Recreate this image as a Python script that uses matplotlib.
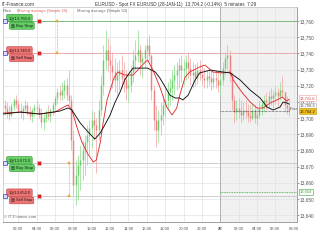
import matplotlib
matplotlib.use("Agg")
import matplotlib.pyplot as plt
import matplotlib.transforms as mtransforms
import pandas as pd
import numpy as np

plt.rcParams['font.family'] = ['Liberation Sans', 'DejaVu Sans']

# ---------------- data ----------------
bar_start = "2011-01-27 00:30"
bar_freq = "15min"
first_open = 13708.0
bar_high = [13711.2, 13709.9, 13708.1, 13709.3, 13712.4, 13714.2, 13711.2, 13709.3, 13708.1, 13711.2,
            13709.9, 13707.4, 13706.2, 13708.7, 13711.2, 13708.7, 13706.2, 13703.7, 13705.0, 13708.1,
            13706.2, 13709.9, 13714.2, 13718.6, 13720.4, 13722.3, 13723.5, 13724.8, 13729.7, 13714.2,
            13692.6, 13674.1, 13677.1, 13683.3, 13686.4, 13689.5, 13695.7, 13698.8, 13705.0, 13703.7,
            13700.0, 13711.2, 13726.6, 13745.2, 13754.4, 13749.5, 13745.2, 13740.8, 13737.1, 13734.7,
            13735.9, 13739.0, 13734.7, 13729.7, 13726.6, 13732.8, 13742.1, 13748.3, 13754.4, 13745.2,
            13740.8, 13745.2, 13749.5, 13751.4, 13739.0, 13720.4, 13708.1, 13705.0, 13709.9, 13714.2,
            13718.6, 13722.3, 13724.8, 13729.7, 13732.8, 13734.7, 13737.1, 13739.0, 13735.9, 13739.0,
            13740.8, 13737.1, 13734.7, 13733.4, 13734.7, 13735.9, 13732.8, 13730.9, 13729.7, 13730.9,
            13729.7, 13728.5, 13729.7, 13728.5, 13726.6, 13734.7, 13740.8, 13745.2, 13742.1, 13728.5,
            13714.2, 13711.2, 13712.4, 13711.2, 13709.9, 13711.2, 13708.7, 13708.1, 13709.3, 13708.1,
            13706.2, 13711.2, 13711.2, 13714.2, 13716.1, 13717.3, 13718.6, 13717.3, 13719.8, 13718.6,
            13722.3, 13726.0, 13716.1, 13713.6, 13711.2]
bar_low = [13701.9, 13700.0, 13698.8, 13700.6, 13705.0, 13706.2, 13703.1, 13700.0, 13698.8, 13703.7,
           13701.9, 13698.8, 13697.6, 13701.3, 13703.7, 13700.0, 13693.8, 13692.6, 13697.6, 13698.8,
           13697.6, 13701.9, 13705.0, 13708.7, 13711.2, 13711.2, 13712.4, 13711.2, 13708.1, 13680.2,
           13652.4, 13646.2, 13649.3, 13655.5, 13661.7, 13664.8, 13671.0, 13677.1, 13681.5, 13686.4,
           13666.0, 13686.4, 13701.9, 13714.2, 13729.7, 13728.5, 13723.5, 13718.6, 13716.1, 13714.2,
           13717.3, 13718.6, 13716.1, 13711.2, 13709.9, 13716.1, 13722.3, 13729.7, 13734.7, 13726.6,
           13724.8, 13730.9, 13734.7, 13735.9, 13711.2, 13692.6, 13682.1, 13685.2, 13689.5, 13695.7,
           13700.0, 13705.0, 13708.1, 13711.2, 13714.2, 13717.3, 13718.6, 13722.3, 13720.4, 13723.5,
           13724.8, 13720.4, 13718.6, 13719.8, 13721.0, 13723.5, 13720.4, 13718.6, 13718.6, 13720.4,
           13717.3, 13718.6, 13718.6, 13716.1, 13714.2, 13720.4, 13726.6, 13729.7, 13722.3, 13705.0,
           13696.9, 13698.8, 13700.0, 13697.6, 13698.8, 13700.0, 13697.6, 13697.6, 13698.8, 13696.9,
           13695.7, 13700.0, 13701.9, 13703.7, 13705.0, 13706.2, 13708.1, 13706.2, 13708.7, 13707.4,
           13711.2, 13712.4, 13703.7, 13702.5, 13701.3]
bar_close = [13706.2, 13703.7, 13701.9, 13707.4, 13711.2, 13708.7, 13705.0, 13703.7, 13706.2, 13708.1,
             13703.7, 13701.3, 13705.0, 13706.8, 13706.2, 13702.5, 13697.6, 13700.0, 13702.5, 13701.3,
             13705.0, 13708.1, 13712.4, 13716.1, 13714.2, 13717.3, 13720.4, 13714.2, 13711.2, 13686.4,
             13658.6, 13664.8, 13671.0, 13674.1, 13680.2, 13685.2, 13689.5, 13693.8, 13698.8, 13695.7,
             13692.6, 13705.0, 13720.4, 13735.9, 13742.1, 13735.9, 13732.8, 13728.5, 13723.5, 13726.6,
             13729.7, 13724.8, 13723.5, 13718.6, 13720.4, 13728.5, 13735.9, 13739.0, 13742.1, 13734.7,
             13737.1, 13742.1, 13745.2, 13739.0, 13717.3, 13698.8, 13692.6, 13698.8, 13701.9, 13708.1,
             13711.2, 13716.1, 13718.6, 13723.5, 13726.6, 13729.7, 13732.8, 13729.7, 13730.9, 13734.7,
             13730.9, 13726.6, 13728.5, 13724.8, 13729.7, 13727.2, 13724.8, 13723.5, 13726.0, 13724.8,
             13722.3, 13724.8, 13723.5, 13720.4, 13723.5, 13730.9, 13737.1, 13739.0, 13726.6, 13711.2,
             13703.7, 13706.2, 13703.7, 13701.9, 13705.0, 13703.7, 13701.3, 13700.0, 13705.0, 13700.0,
             13701.9, 13706.2, 13708.7, 13711.2, 13709.9, 13713.6, 13712.4, 13714.2, 13716.1, 13713.6,
             13717.3, 13716.1, 13708.1, 13706.2, 13704.2]

sma20_times = ["27 00:20", "27 02:10", "27 04:20", "27 06:00", "27 06:45", "27 07:25", "27 07:50",
               "27 08:25", "27 08:55", "27 09:30", "27 10:10", "27 10:30", "27 10:55", "27 11:15",
               "27 11:40", "27 12:00", "27 12:25", "27 12:50", "27 13:35", "27 14:30", "27 15:00",
               "27 15:50", "27 16:05", "27 16:40", "27 17:25", "27 18:10", "27 18:45", "27 19:15",
               "27 19:35", "27 20:10", "27 20:40", "27 21:45", "27 22:20", "27 23:10", "28 00:15",
               "28 01:05", "28 01:25", "28 02:20", "28 03:15", "28 04:00", "28 04:40", "28 05:25",
               "28 06:10", "28 06:45", "28 07:15", "28 07:30"]
sma20_values = [13703.1, 13703.7, 13702.5, 13703.7, 13706.2, 13708.1, 13705.0,
                13693.8, 13685.2, 13678.4, 13672.8, 13674.1, 13684.6, 13697.6,
                13711.2, 13717.3, 13724.8, 13728.5, 13726.6, 13726.6, 13729.7,
                13734.7, 13735.9, 13729.7, 13719.2, 13706.8, 13701.9, 13706.2,
                13714.2, 13725.4, 13728.5, 13731.6, 13732.8, 13728.5, 13727.9,
                13728.5, 13723.5, 13716.1, 13709.9, 13706.2, 13706.2, 13709.3,
                13711.2, 13713.0, 13710.5, 13711.6]
sma50_times = ["27 00:20", "27 02:10", "27 04:20", "27 06:30", "27 07:25", "27 07:50", "27 08:45",
               "27 09:30", "27 10:20", "27 10:55", "27 11:25", "27 12:00", "27 12:30", "27 13:05",
               "27 13:35", "27 14:10", "27 14:30", "27 15:35", "27 16:05", "27 16:55", "27 17:25",
               "27 18:00", "27 18:30", "27 19:05", "27 19:35", "27 19:55", "27 20:30", "27 21:15",
               "27 21:45", "27 22:55", "28 00:15", "28 01:05", "28 02:10", "28 03:15", "28 04:20",
               "28 05:05", "28 05:45", "28 06:30", "28 06:50", "28 07:15", "28 07:30"]
sma50_values = [13702.5, 13703.7, 13702.5, 13704.3, 13706.2, 13705.0, 13696.9,
                13692.0, 13687.0, 13690.7, 13695.7, 13701.9, 13709.3, 13716.1,
                13723.5, 13728.5, 13730.9, 13730.9, 13730.9, 13728.5, 13724.8,
                13719.2, 13714.2, 13712.4, 13712.4, 13711.2, 13714.2, 13723.5,
                13727.9, 13729.7, 13728.5, 13727.9, 13723.5, 13717.3, 13712.4,
                13706.8, 13705.0, 13706.8, 13709.9, 13709.3, 13708.6]

y_ticks = [13640, 13650, 13660, 13670, 13680, 13690, 13700, 13710, 13720, 13730, 13740, 13750, 13760]
x_tick_times = ["27 02:00", "27 04:00", "27 06:00", "27 08:00", "27 10:00", "27 12:00", "27 14:00",
                "27 16:00", "27 18:00", "27 20:00", "27 22:00", "28 00:00", "28 02:00", "28 04:00",
                "28 06:00", "28 08:00"]
x_tick_labels = ["02:00", "04:00", "06:00", "08:00", "10:00", "12:00", "14:00", "16:00", "18:00",
                 "20:00", "22:00", "28", "02:00", "04:00", "06:00", "08:00"]

order_prices = [13760.0, 13740.0, 13672.0, 13652.0]
order_types = ["Buy Stop", "Sell Stop", "Buy Stop", "Sell Stop"]
order_link_times = ["27 06:15", "27 07:30"]
last_price = 13704.2
last_change = -0.14
stop_level = 13654.0
x_range = ["27 00:20", "28 08:21"]
y_range = [13635.7, 13768.7]
session_start = "28 00:00"


def ts(lst):
    return pd.to_datetime(["2011-01-" + s for s in lst], format="%Y-%m-%d %H:%M")


# ---------------- figure ----------------
fig = plt.figure(figsize=(3.2, 2.4), dpi=100)
fig.patch.set_facecolor('white')
ax = fig.add_axes([3 / 320, 18 / 240, 294 / 320, 215 / 240])

xr = ts(x_range)
ax.set_xlim(xr[0], xr[1])
ax.set_ylim(*y_range)

sess = ts([session_start])[0]
ax.axvspan(sess, xr[1], color='#f1f1f1', zorder=0, lw=0)
ax.axvline(sess, color='#a8a8a8', lw=0.6, zorder=1)

ax.set_axisbelow(True)
ax.grid(True, color='#e0e0e0', lw=0.45)

# order lines
order_line_colors = ['#6db36d', '#eaa2a2', '#c6c6c6', '#c6c6c6']
for p, c in zip(order_prices, order_line_colors):
    ax.axhline(p, color=c, lw=0.6, zorder=1.5)

# candles
times = pd.date_range(bar_start, periods=len(bar_close), freq=bar_freq)
opens = [first_open] + bar_close[:-1]
up = [c >= o for c, o in zip(bar_close, opens)]
wick_c = ['#9fe09f' if u else '#f2b0b0' for u in up]
body_c = ['#6ccf6c' if u else '#ea8484' for u in up]
ax.vlines(times, bar_low, bar_high, colors=wick_c, lw=0.6, zorder=3)
ax.vlines(times, np.minimum(opens, bar_close), np.maximum(opens, bar_close),
          colors=body_c, lw=1.05, zorder=3.1)

# moving averages
ax.plot(ts(sma20_times), sma20_values, color='#e03030', lw=0.65, zorder=4)
ax.plot(ts(sma50_times), sma50_values, color='#111111', lw=0.65, zorder=4.1)

# current price and stop level lines
ax.hlines(last_price, sess, times[-1], colors='#333333', linestyles=(0, (1, 1)), lw=0.5, zorder=4.2)
ax.hlines(stop_level, sess, xr[1], colors='#3fa63f', linestyles=(0, (1, 1)), lw=0.6, zorder=4.2)
ax.text(times[-1], last_price, " Price", fontsize=2.3, color='#555555', va='bottom', ha='left', zorder=5)

# order links
link_t = ts(order_link_times)
for t, (hi, lo) in zip(link_t, [(order_prices[0], order_prices[1]), (order_prices[2], order_prices[3])]):
    ax.vlines(t, lo, hi, colors='#999999', linestyles=(0, (1, 1)), lw=0.5, zorder=4)
    ax.plot([t, t], [hi, lo], 's', ms=2.0, mfc='#f5b041', mec='#e0a030', mew=0.3, zorder=5)

# order boxes
bt = mtransforms.blended_transform_factory(ax.transAxes, ax.transData)
for p, kind in zip(order_prices, order_types):
    if kind == "Buy Stop":
        fc, ec = '#62d062', '#2f8f2f'
    else:
        fc, ec = '#f07474', '#b84040'
    ax.annotate("1@{:,.1f}".format(p), xy=(0.018, p), xycoords=bt, xytext=(0, 2.2),
                textcoords='offset points', fontsize=3.0, color='#1a1a1a', ha='left', va='center',
                bbox=dict(boxstyle='round,pad=0.4,rounding_size=0.3', fc=fc, ec=ec, lw=0.4), zorder=6)
    ax.annotate("\u25a4 " + kind, xy=(0.027, p), xycoords=bt, xytext=(0, -3.4),
                textcoords='offset points', fontsize=3.0, color='#1a1a1a', ha='left', va='center',
                bbox=dict(boxstyle='round,pad=0.35,rounding_size=0.3', fc=fc, ec=ec, lw=0.4), zorder=6)
    ax.plot([0.122], [p], 's', ms=2.2, mfc='#e02020', mec='#c8c8f0', mew=0.4,
            transform=bt, zorder=7, clip_on=False)
    ax.plot([0.0075], [p], 's', ms=3.0, mfc='#dcdcff', mec='#3a3ac8', mew=0.5,
            transform=bt, zorder=7, clip_on=False)

# right-side value boxes
ax.annotate("{:,.1f}".format(sma20_values[-1]), xy=(1.0, sma20_values[-1]), xycoords=bt,
            xytext=(2, 0.8), textcoords='offset points', fontsize=3.0, color='#e03c3c',
            ha='left', va='center', annotation_clip=False,
            bbox=dict(boxstyle='square,pad=0.2', fc='white', ec='#e8a0a0', lw=0.4), zorder=8)
ax.annotate("{:,.1f}".format(sma50_values[-1]), xy=(1.0, sma50_values[-1]), xycoords=bt,
            xytext=(2, -1.0), textcoords='offset points', fontsize=3.0, color='#555555',
            ha='left', va='center', annotation_clip=False,
            bbox=dict(boxstyle='square,pad=0.2', fc='white', ec='#aaaaaa', lw=0.4), zorder=8)
ax.annotate("{:,.1f}".format(last_price), xy=(1.0, last_price), xycoords=bt,
            xytext=(2, 0), textcoords='offset points', fontsize=3.0, color='#222222',
            ha='left', va='center', annotation_clip=False,
            bbox=dict(boxstyle='square,pad=0.2', fc='#f2c01e', ec='#c89a00', lw=0.4), zorder=9)
ax.annotate("{:,.0f}".format(stop_level), xy=(1.0, stop_level), xycoords=bt,
            xytext=(2, 0.3), textcoords='offset points', fontsize=3.0, color='#3fa63f',
            ha='left', va='center', annotation_clip=False,
            bbox=dict(boxstyle='square,pad=0.2', fc='white', ec='#3fa63f', lw=0.4), zorder=8)

# axes formatting
ax.yaxis.tick_right()
ax.set_yticks(y_ticks)
ax.set_yticklabels(["{:,}".format(v) for v in y_ticks])
ax.tick_params(axis='y', labelsize=3.4, length=1.5, width=0.4, pad=0.6, colors='#555555')
ax.set_xticks(ts(x_tick_times))
ax.set_xticklabels(x_tick_labels)
ax.tick_params(axis='x', labelsize=3.0, length=0, pad=3.5, colors='#555555')
for lbl in ax.get_xticklabels():
    if lbl.get_text() == "28":
        lbl.set_fontweight('bold')
for s in ['left', 'top']:
    ax.spines[s].set_color('#c0c0c0')
    ax.spines[s].set_linewidth(0.5)
for s in ['right', 'bottom']:
    ax.spines[s].set_color('#909090')
    ax.spines[s].set_linewidth(0.6)

# titles / legend
fig.text(2 / 320, 1 - 4.5 / 240, "IT-Finance.com", fontsize=3.4, color='#333333', ha='left', va='center')
fig.text(176 / 320, 1 - 4.5 / 240,
         "EURUSD - Spot FX EURUSD (28-JAN-11)  {:,.1f} ({:.2f}%)  5 minutes  7:29".format(last_price, last_change),
         fontsize=3.3, color='#333333', ha='center', va='center')
fig.text(2.5 / 320, 1 - 11 / 240, "Price", fontsize=2.9, color='#666666', ha='left', va='center')
fig.text(17 / 320, 1 - 11 / 240, "Moving average (Simple 20)", fontsize=2.9, color='#e06060', ha='left', va='center')
fig.text(77 / 320, 1 - 11 / 240, "Moving average (Simple 50)", fontsize=2.9, color='#666666', ha='left', va='center')
ax.text(0.003, 0.012, "\u00a9 IT-Finance.com", transform=ax.transAxes, fontsize=3.0, color='#666666',
        ha='left', va='bottom', zorder=6)

fig.savefig("out.png", dpi=100)
